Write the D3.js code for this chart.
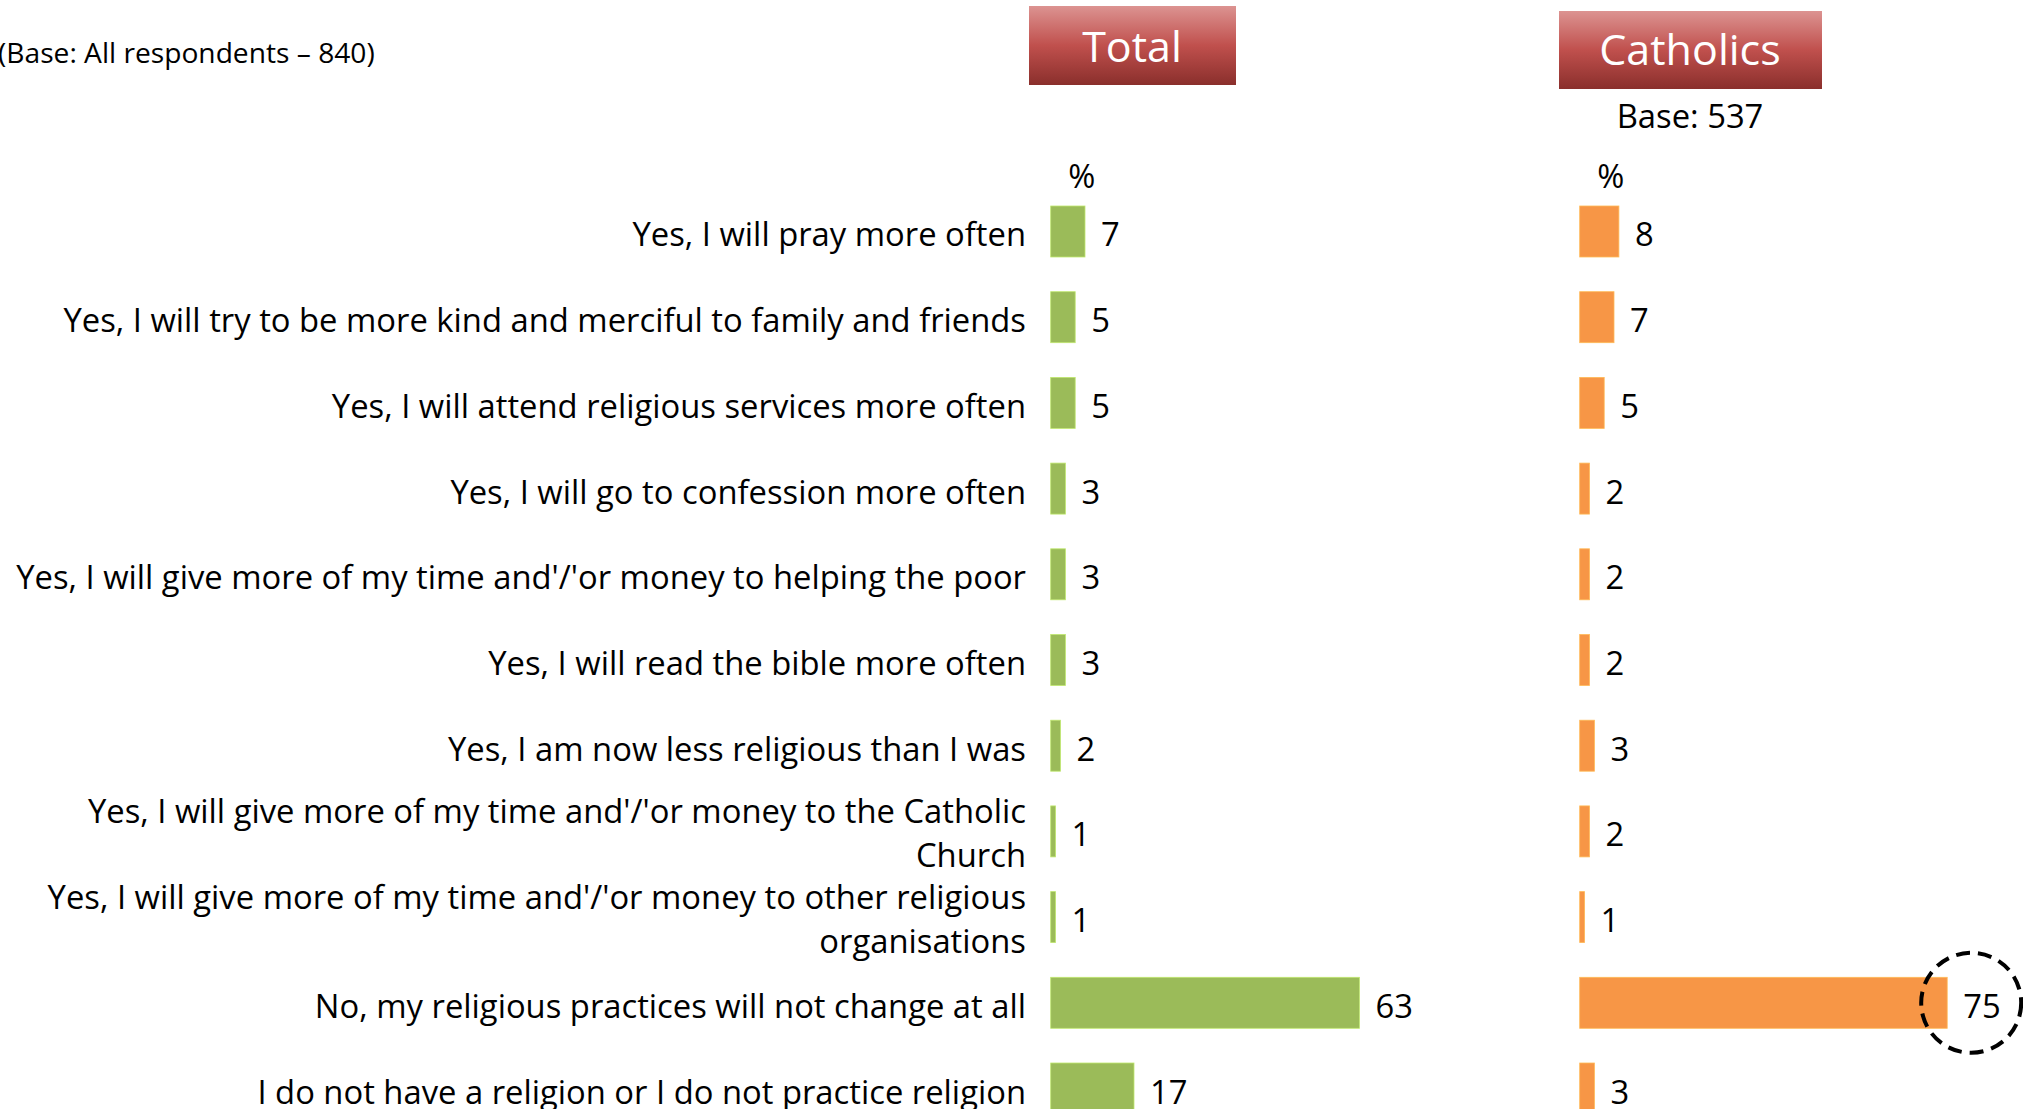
<!DOCTYPE html>
<html>
<head>
<meta charset="utf-8">
<script src="https://cdn.jsdelivr.net/npm/d3@7"></script>
<style>
  html, body { margin: 0; padding: 0; background: #ffffff; }
  svg { display: block; }
  text { font-family: "Open Sans", "Liberation Sans", sans-serif; fill: #000; }
</style>
</head>
<body>
<svg id="chart" width="2023" height="1109"></svg>
<script>
// ---------- data ----------
const categories = [
  ["Yes, I will pray more often"],
  ["Yes, I will try to be more kind and merciful to family and friends"],
  ["Yes, I will attend religious services more often"],
  ["Yes, I will go to confession more often"],
  ["Yes, I will give more of my time and'/'or money to helping the poor"],
  ["Yes, I will read the bible more often"],
  ["Yes, I am now less religious than I was"],
  ["Yes, I will give more of my time and'/'or money to the Catholic", "Church"],
  ["Yes, I will give more of my time and'/'or money to other religious", "organisations"],
  ["No, my religious practices will not change at all"],
  ["I do not have a religion or I do not practice religion"]
];
const totalValues = [7, 5, 5, 3, 3, 3, 2, 1, 1, 63, 17];
const catholicValues = [8, 7, 5, 2, 2, 2, 3, 2, 1, 75, 3];
const panelTitles = ["Total", "Catholics"];
const baseNote = "(Base: All respondents \u2013 840)";
const catholicBase = "Base: 537";
const unitLabel = "%";
const highlightIndex = 9;

// ---------- layout ----------
const svg = d3.select("#chart");
const keys = categories.map((c, i) => i);
const y = d3.scaleBand().domain(keys).range([206, 1114]).paddingInner(0.405).paddingOuter(0);
const xT = d3.scaleLinear().domain([0, 100]).range([1050.7, 1540.7]);
const xC = d3.scaleLinear().domain([0, 100]).range([1579.7, 2069.7]);

const green = "#9BBB59", orange = "#F79646";
const labelRight = 1026;
const FS = 32;

// gradient for header boxes
const defs = svg.append("defs");
const grad = defs.append("linearGradient").attr("id", "hdr").attr("x1", 0).attr("y1", 0).attr("x2", 0).attr("y2", 1);
grad.append("stop").attr("offset", "0%").attr("stop-color", "#DC9391");
grad.append("stop").attr("offset", "50%").attr("stop-color", "#C0504D");
grad.append("stop").attr("offset", "100%").attr("stop-color", "#8A2F2C");

// measure horizontal compression so labels mimic a narrow font
const probe = svg.append("text").attr("font-size", FS).text(categories[4][0]);
const probeW = probe.node().getComputedTextLength();
probe.remove();
const sx = (labelRight - 15.5) / probeW;

function ctext(g, x, yy, str, size, anchor) {
  return g.append("text")
    .attr("transform", `translate(${x},${yy}) scale(${sx},1)`)
    .attr("font-size", size)
    .attr("text-anchor", anchor || "start")
    .text(str);
}

// base note
ctext(svg, -2, 63, baseNote, 27.5, "start");

// category labels
const lblG = svg.append("g");
categories.forEach((lines, i) => {
  const c = y(i) + y.bandwidth() / 2;
  if (lines.length === 1) {
    ctext(lblG, labelRight, c + 15, lines[0], FS, "end");
  } else {
    ctext(lblG, labelRight, c - 8, lines[0], FS, "end");
    ctext(lblG, labelRight, c + 36, lines[1], FS, "end");
  }
});

// header boxes
svg.append("rect").attr("x", 1029).attr("y", 6).attr("width", 207).attr("height", 79).attr("fill", "url(#hdr)");
ctext(svg, 1132, 62, panelTitles[0], 42, "middle").style("fill", "#fff");
svg.append("rect").attr("x", 1559).attr("y", 11).attr("width", 263).attr("height", 78).attr("fill", "url(#hdr)");
ctext(svg, 1690, 65, panelTitles[1], 42, "middle").style("fill", "#fff");
ctext(svg, 1690, 128, catholicBase, FS, "middle");

// % labels
ctext(svg, xT(0) + 31, 188, unitLabel, FS, "middle");
ctext(svg, xC(0) + 31, 188, unitLabel, FS, "middle");

// bars
function drawPanel(vals, x, color) {
  const g = svg.append("g");
  g.selectAll("rect").data(vals).join("rect")
    .attr("x", x(0))
    .attr("y", (d, i) => y(i))
    .attr("width", d => x(d) - x(0))
    .attr("height", y.bandwidth())
    .attr("fill", color)
    .attr("stroke", d3.color(color).brighter(0.6))
    .attr("stroke-width", 0.8);
  vals.forEach((d, i) => {
    ctext(g, x(d) + 16, y(i) + y.bandwidth() / 2 + 15, String(d), FS, "start");
  });
}
drawPanel(totalValues, xT, green);
drawPanel(catholicValues, xC, orange);

// dashed highlight circle around Catholics "no change" value
svg.append("circle")
  .attr("cx", xC(catholicValues[highlightIndex]) + 24)
  .attr("cy", y(highlightIndex) + y.bandwidth() / 2)
  .attr("r", 50)
  .attr("fill", "none")
  .attr("stroke", "#000")
  .attr("stroke-width", 4)
  .attr("stroke-dasharray", "14 8");
</script>
</body>
</html>
